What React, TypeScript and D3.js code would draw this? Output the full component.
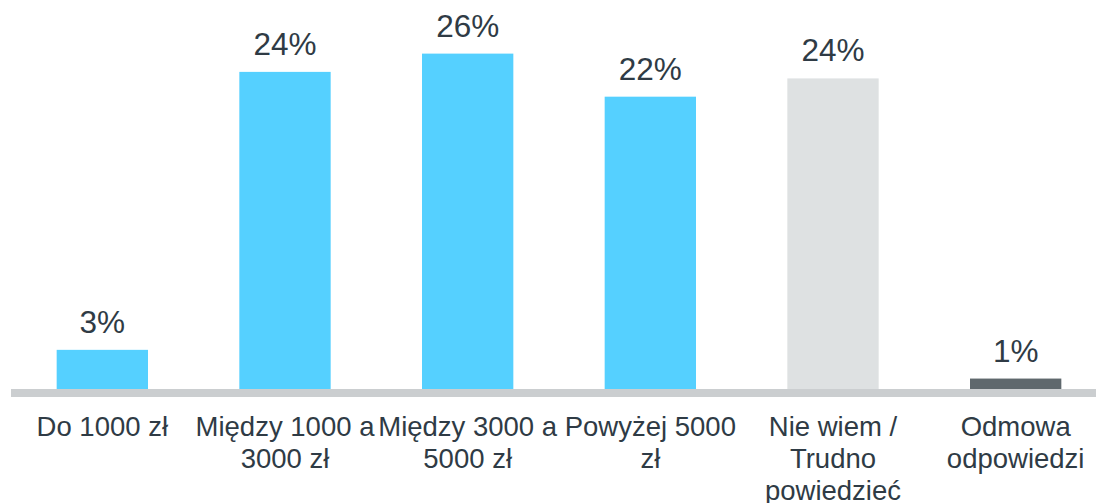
import React, { useEffect, useRef } from "react";
import * as d3 from "d3";

const categories: string[][] = [
  ["Do 1000 zł"],
  ["Między 1000 a", "3000 zł"],
  ["Między 3000 a", "5000 zł"],
  ["Powyżej 5000", "zł"],
  ["Nie wiem /", "Trudno", "powiedzieć"],
  ["Odmowa", "odpowiedzi"],
];
const values: number[] = [3.0, 24.3, 25.7, 22.4, 23.8, 0.8];
const valueLabels: string[] = ["3%", "24%", "26%", "22%", "24%", "1%"];
const barColors: string[] = ["#55D0FF", "#55D0FF", "#55D0FF", "#55D0FF", "#DEE1E2", "#5F686D"];

const W = 1096;
const H = 503;
const baseY = 389;
const textColor = "#2F3B45";
const font = "'Liberation Sans', Arial, sans-serif";

export default function App() {
  const ref = useRef<SVGSVGElement>(null);
  useEffect(() => {
    const svg = d3.select(ref.current);
    svg.selectAll("*").remove();
    const ids = categories.map((_, i) => String(i));
    const x = d3.scaleBand<string>().domain(ids).range([11, 1107]).paddingInner(0.5).paddingOuter(0.25);
    const y = d3.scaleLinear().domain([0, 1]).range([baseY, baseY - 13.05]);

    svg.append("rect").attr("x", 11).attr("y", baseY).attr("width", W - 11).attr("height", 8).attr("fill", "#CBCED0");

    const g = svg.append("g");
    g.selectAll("rect.bar")
      .data(values)
      .join("rect")
      .attr("class", "bar")
      .attr("x", (_, i) => x(ids[i])!)
      .attr("width", x.bandwidth())
      .attr("y", (d) => y(d))
      .attr("height", (d) => baseY - y(d))
      .attr("fill", (_, i) => barColors[i]);

    g.selectAll("text.val")
      .data(values)
      .join("text")
      .attr("class", "val")
      .attr("x", (_, i) => x(ids[i])! + x.bandwidth() / 2)
      .attr("y", (d) => y(d) - 17)
      .attr("text-anchor", "middle")
      .attr("font-family", font)
      .attr("font-size", 31.5)
      .attr("fill", textColor)
      .text((_, i) => valueLabels[i]);

    categories.forEach((lines, i) => {
      const t = g
        .append("text")
        .attr("x", x(ids[i])! + x.bandwidth() / 2)
        .attr("y", 436)
        .attr("text-anchor", "middle")
        .attr("font-family", font)
        .attr("font-size", 27.5)
        .attr("fill", textColor);
      lines.forEach((ln, j) => {
        t.append("tspan").attr("x", x(ids[i])! + x.bandwidth() / 2).attr("y", 436 + j * 32).text(ln);
      });
    });
  }, []);
  return (
    <div style={{ position: "absolute", left: 0, top: 0 }}>
      <svg ref={ref} width={W} height={H} style={{ display: "block", background: "#fff" }} />
    </div>
  );
}
